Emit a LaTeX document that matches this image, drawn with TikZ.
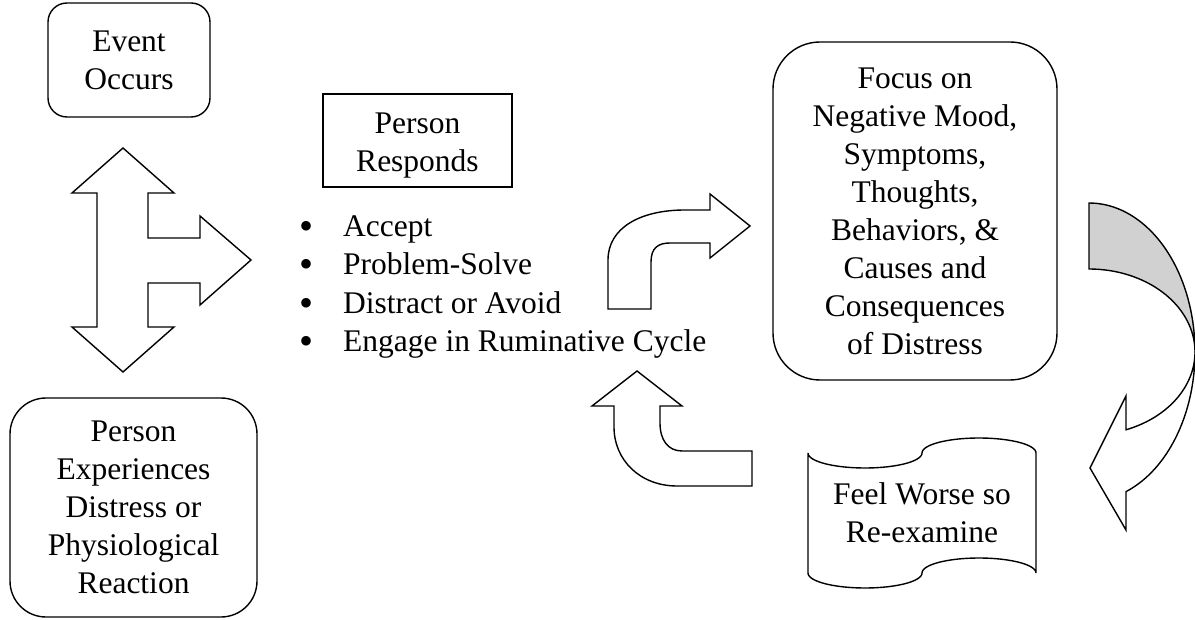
\documentclass[tikz,border=0pt]{standalone}
\usepackage{fontspec}
\setmainfont{Liberation Serif}
\newcommand{\bigbul}{\llap{\smash{\raisebox{-3pt}{\fontsize{40}{38}\selectfont\textbullet}}\hspace{30pt}}}
\begin{document}
\begin{tikzpicture}[x=1pt,y=-1pt,
  every node/.style={font=\fontsize{31.5}{38}\selectfont},
  shapeline/.style={draw=black, line width=1.4pt, line join=miter},
  rbox/.style={shapeline, rectangle, align=center, inner sep=0pt},
  listitem/.style={anchor=base west, inner sep=0pt},
]
\useasboundingbox (0,0) rectangle (1195,620);

% boxes
\node[rbox, rounded corners=19pt, minimum width=162pt, minimum height=114pt] (event) at (129,60) {Event\\Occurs};
\node[align=center, inner sep=0pt] (responds) at (417.5,146) {Person\\Responds};
\draw[shapeline] ([shift={(-94.5,-52)}]responds.center) rectangle ([shift={(94.5,41)}]responds.center);
\node[rbox, rounded corners=47pt, minimum width=284pt, minimum height=338pt] (focus) at (915,211)
  {Focus on\\Negative Mood,\\Symptoms,\\Thoughts,\\Behaviors, \&\\Causes and\\Consequences\\of Distress};
\node[rbox, rounded corners=36pt, minimum width=247pt, minimum height=219pt] (exper) at (133.5,507.5)
  {Person\\Experiences\\Distress or\\Physiological\\Reaction};

% bullet list
\node[listitem] (b1) at (343,237) {\bigbul Accept};
\node[listitem] (b2) at (343,275) {\bigbul Problem-Solve};
\node[listitem] (b3) at (343,314) {\bigbul Distract or Avoid};
\node[listitem] (b4) at (343,352) {\bigbul Engage in Ruminative Cycle};

% three-way arrow
\draw[shapeline] (123,148) -- (174,193) -- (148,193) -- (148,238) -- (200,238) -- (200,216)
  -- (251,260) -- (200,305) -- (200,283) -- (148,283) -- (148,327) -- (174,327)
  -- (123,372) -- (72,327) -- (97,327) -- (97,193) -- (72,193) -- cycle;

% bent-up right arrow
\draw[shapeline] (608,309) -- (608,260) .. controls (608,228) and (640,210) .. (685,210)
  -- (710,210) -- (710,194) -- (750,226) -- (710,258) -- (710,243) -- (670,243)
  .. controls (658,243) and (651,248) .. (651,262) -- (651,309) -- cycle;

% U-turn up arrow
\draw[shapeline] (637,371) -- (682,406) -- (660,406) -- (660,423)
  .. controls (660,440) and (668,451) .. (682,451) -- (752,451) -- (752,486) -- (677,486)
  .. controls (640,486) and (614,460) .. (614,427) -- (614,406) -- (592,406) -- cycle;

% curved arrow (back part shaded)
\filldraw[shapeline, fill=black!18]
  plot[domain=-90:0, samples=40] ({1089+106*cos(\x)},{352+149*sin(\x)})
  -- plot[domain=0:-90, samples=40] ({1089+106*cos(\x)},{352+83*sin(\x)}) -- cycle;
\filldraw[shapeline, fill=white]
  plot[domain=0:69.6, samples=40] ({1089+106*cos(\x)},{352+83*sin(\x)})
  -- (1126,396) -- (1090,468) -- (1126,530)
  -- plot[domain=69.6:0, samples=40] ({1089+106*cos(\x)},{352+149*sin(\x)}) -- cycle;

% punched-tape shape
\draw[shapeline]
  plot[domain=180:0, samples=40] ({865+57*cos(\x)},{453+15*sin(\x)})
  -- plot[domain=180:0, samples=40] ({979+57*cos(\x)},{453-15*sin(\x)})
  -- plot[domain=0:180, samples=40] ({979+57*cos(\x)},{573-15*sin(\x)})
  -- plot[domain=0:180, samples=40] ({865+57*cos(\x)},{573+15*sin(\x)}) -- cycle;
\node[align=center, inner sep=0pt] (feel) at (922,513) {Feel Worse so\\Re-examine};
\end{tikzpicture}
\end{document}
